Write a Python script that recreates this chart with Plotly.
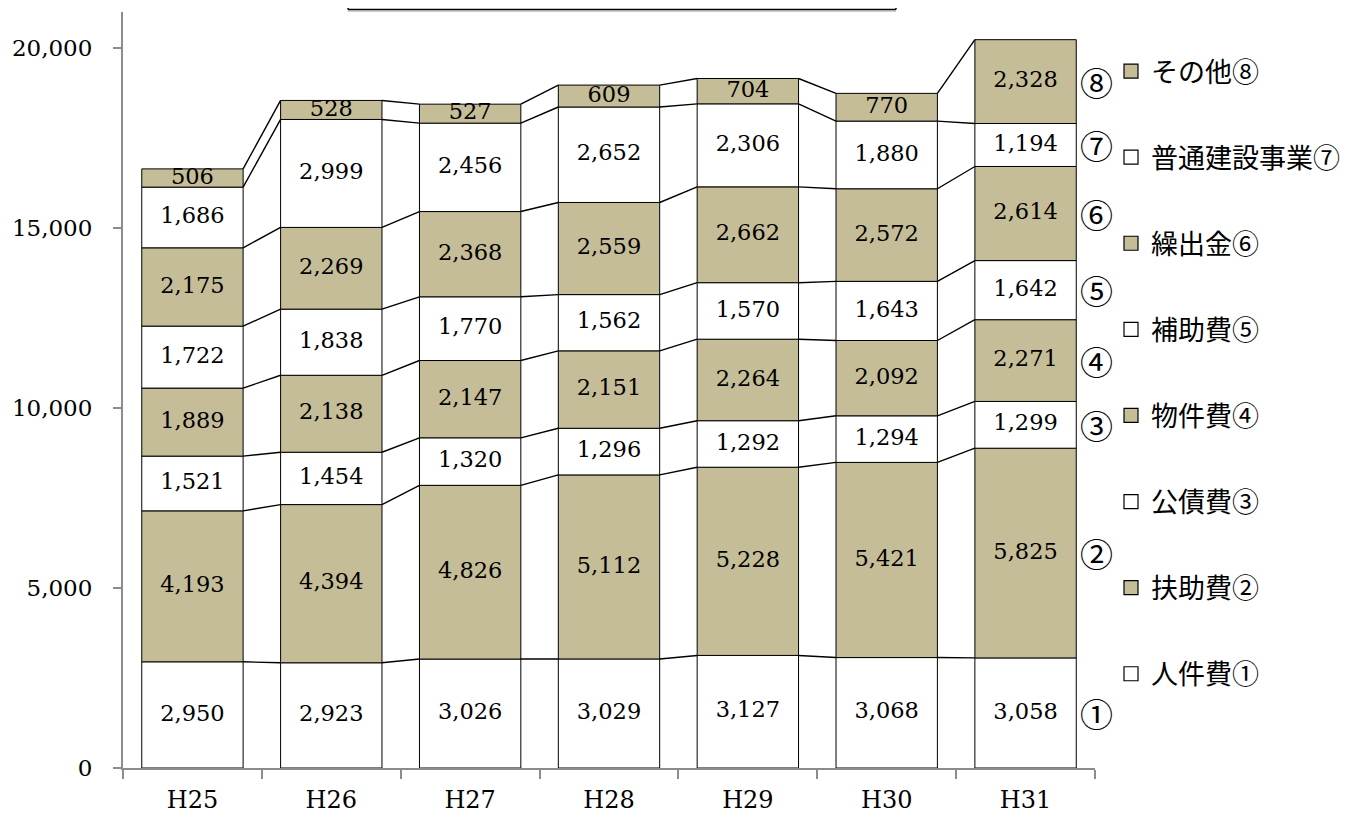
import plotly.graph_objects as go

years = ["H25", "H26", "H27", "H28", "H29", "H30", "H31"]
names = ["人件費①", "扶助費②", "公債費③", "物件費④", "補助費⑤", "繰出金⑥", "普通建設事業⑦", "その他⑧"]
marks = ["①", "②", "③", "④", "⑤", "⑥", "⑦", "⑧"]
jinken = [2950, 2923, 3026, 3029, 3127, 3068, 3058]
fujo = [4193, 4394, 4826, 5112, 5228, 5421, 5825]
kousai = [1521, 1454, 1320, 1296, 1292, 1294, 1299]
bukken = [1889, 2138, 2147, 2151, 2264, 2092, 2271]
hojo = [1722, 1838, 1770, 1562, 1570, 1643, 1642]
kuridashi = [2175, 2269, 2368, 2559, 2662, 2572, 2614]
kensetsu = [1686, 2999, 2456, 2652, 2306, 1880, 1194]
sonota = [506, 528, 527, 609, 704, 770, 2328]
series = [jinken, fujo, kousai, bukken, hojo, kuridashi, kensetsu, sonota]
colors = ["#FFFFFF", "#C4BD97"] * 4

W = 0.73
NUM_FONT = "DejaVu Serif"
JP_FONT = "Noto Sans CJK JP"

# page body has an 8px margin; figure is laid out in page-8px coordinates
L, T, PW, PH = 115, 4, 972, 756
FW, FH = 1347, 806

fig = go.Figure()
xs = list(range(len(years)))
base = [0] * len(years)
bases = []
for k, vals in enumerate(series):
    bases.append(list(base))
    fig.add_trace(go.Bar(
        x=xs, y=vals, base=list(base), name=names[k], width=W,
        marker=dict(color=colors[k], line=dict(color="black", width=1)),
        showlegend=False, hoverinfo="skip",
    ))
    base = [b + v for b, v in zip(base, vals)]

# legend entries (square markers)
for k in range(len(series)):
    fig.add_trace(go.Scatter(
        x=[None], y=[None], mode="markers", name=names[k],
        marker=dict(symbol="square", size=14, color=colors[k], line=dict(color="black", width=1.2)),
        legendgroup=names[k], legendrank=len(series) - k, showlegend=True,
    ))

# connecting lines between bars
lx, ly = [], []
for k, vals in enumerate(series):
    tops = [b + v for b, v in zip(bases[k], vals)]
    for i in range(len(years) - 1):
        lx += [i + W / 2, i + 1 - W / 2, None]
        ly += [tops[i], tops[i + 1], None]
fig.add_trace(go.Scatter(x=lx, y=ly, mode="lines", line=dict(color="black", width=1.4),
                         showlegend=False, hoverinfo="skip"))

# value labels
for k, vals in enumerate(series):
    fig.add_trace(go.Scatter(
        x=xs, y=[b + v / 2 for b, v in zip(bases[k], vals)],
        text=[f"{v:,}" for v in vals], mode="text",
        textfont=dict(family=NUM_FONT, size=22.5, color="black"),
        showlegend=False, hoverinfo="skip", cliponaxis=False,
    ))

# circled numbers beside last bar
last = len(years) - 1
for k, vals in enumerate(series):
    fig.add_annotation(x=last + W / 2, y=bases[k][last] + vals[last] / 2, xref="x", yref="y",
                       text=marks[k], showarrow=False, xanchor="left", xshift=2,
                       font=dict(family=JP_FONT, size=33, color="black"))

# empty title box at top (bottom edge just inside the figure)
bx0, bx1 = (348 - 8 - L) / PW, (896 - 8 - L) / PW
by0, by1 = 1 + (T - 1.5) / PH, 1 + T / PH
fig.add_shape(type="line", xref="paper", yref="paper", x0=bx0, x1=bx1, y0=by0, y1=by0,
              line=dict(color="black", width=1.5))
fig.add_shape(type="line", xref="paper", yref="paper", x0=bx0, x1=bx1, y0=by0 - 1.5 / PH, y1=by0 - 1.5 / PH,
              line=dict(color="#9a9a9a", width=1))
for bx in (bx0, bx1):
    fig.add_shape(type="line", xref="paper", yref="paper", x0=bx, x1=bx, y0=by0, y1=by1,
                  line=dict(color="black", width=1.5))

fig.update_layout(
    width=FW, height=FH,
    margin=dict(l=L, r=FW - L - PW, t=T, b=FH - T - PH, autoexpand=False),
    plot_bgcolor="white", paper_bgcolor="white",
    barmode="overlay",
    font=dict(family=NUM_FONT, size=20, color="black"),
    legend=dict(
        x=(1111 - 8 - L) / PW, xanchor="left", y=1 - (47 - 8 - T) / PH, yanchor="top",
        traceorder="grouped", tracegroupgap=48, itemwidth=30,
        font=dict(family=JP_FONT, size=27, color="black"),
        bgcolor="rgba(0,0,0,0)",
    ),
    xaxis=dict(
        range=[-0.5, 6.5], tickvals=xs, ticktext=years, ticks="", showgrid=False,
        zeroline=False, showline=True, linecolor="#8c8c8c", linewidth=2, automargin=False,
        tickfont=dict(family=NUM_FONT, size=24), ticklabelstandoff=9,
        minor=dict(tickvals=[i - 0.5 for i in range(len(years) + 1)], ticks="outside",
                   ticklen=9, tickcolor="#8c8c8c", tickwidth=2),
    ),
    yaxis=dict(
        range=[0, 21000], tickvals=[0, 5000, 10000, 15000, 20000], tickformat=",",
        ticks="outside", ticklen=8, tickcolor="#8c8c8c", tickwidth=2, automargin=False,
        showgrid=False, zeroline=False, showline=True, linecolor="#8c8c8c", linewidth=2,
        tickfont=dict(family=NUM_FONT, size=23), ticklabelstandoff=16,
    ),
)

fig.write_html("out.html")
